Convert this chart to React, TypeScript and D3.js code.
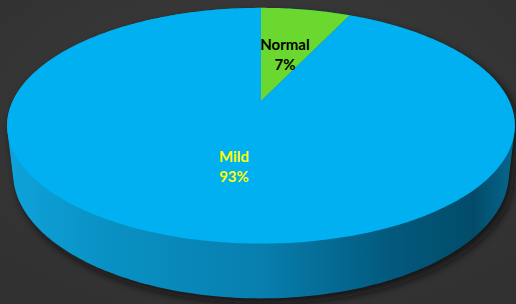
import React from "react";
import * as d3 from "d3";

const categories = ["Normal", "Mild"];
const values = [7, 93];
const labels = ["7%", "93%"];
const colors = ["#6ad82e", "#00b0f0"];
const labelColors = ["#000000", "#ffff00"];

const W = 516;
const H = 304;
const alpha = (27 * Math.PI) / 180;
const dist = 4.25;
const focal = 1055;
const thick = 0.2165;
const cx = 261;
const cy = 101;

function project(theta: number, h: number): [number, number] {
  const x = Math.sin(theta);
  const z = -Math.cos(theta);
  const ca = Math.cos(alpha);
  const sa = Math.sin(alpha);
  const depth = dist - z * ca - h * sa;
  const yc = z * sa - h * ca;
  return [cx + (focal * x) / depth, cy + (focal * yc) / depth];
}

export default function App() {
  const pie = d3.pie<number>().sort(null).value((d) => d);
  const arcs = pie(values);
  const N = 360;
  const rimPts: [number, number][] = [];
  for (let i = 0; i < N; i++) {
    const t = (i / N) * Math.PI * 2;
    rimPts.push(project(t, 0));
    rimPts.push(project(t, -thick));
  }
  const hull = d3.polygonHull(rimPts) || [];
  const line = d3.line();
  const hullPath = line(hull as [number, number][]) + "Z";

  const slicePath = (a0: number, a1: number) => {
    const pts: [number, number][] = [[cx, cy]];
    const steps = Math.max(4, Math.ceil(((a1 - a0) / (Math.PI * 2)) * 360));
    for (let i = 0; i <= steps; i++) {
      pts.push(project(a0 + ((a1 - a0) * i) / steps, 0));
    }
    return line(pts) + "Z";
  };

  const labelPos = [
    [285, 50],
    [234, 162],
  ];

  return (
    <svg width={W} height={H} style={{ position: "absolute", left: 0, top: 0 }}>
      <defs>
        <radialGradient id="bg" cx="50%" cy="40%" r="70%">
          <stop offset="0%" stopColor="#3d3d3d" />
          <stop offset="100%" stopColor="#313131" />
        </radialGradient>
        <linearGradient id="side" x1="0" x2="1" y1="0" y2="0">
          <stop offset="0%" stopColor="#0ea3da" />
          <stop offset="20%" stopColor="#0991c4" />
          <stop offset="50%" stopColor="#077fae" />
          <stop offset="75%" stopColor="#035a7e" />
          <stop offset="92%" stopColor="#024c6a" />
          <stop offset="100%" stopColor="#06688e" />
        </linearGradient>
        <filter id="blur" x="-20%" y="-20%" width="140%" height="140%">
          <feGaussianBlur stdDeviation="4" />
        </filter>
      </defs>
      <rect width={W} height={H} fill="url(#bg)" />
      <path d={hullPath} fill="#111" opacity={0.8} transform="translate(4,5)" filter="url(#blur)" />
      <path d={hullPath} fill="url(#side)" />
      {arcs.map((a, i) => (
        <path key={categories[i]} d={slicePath(a.startAngle, a.endAngle)} fill={colors[i]} />
      ))}
      {arcs.map((a, i) => (
        <text
          key={"t" + i}
          x={labelPos[i][0]}
          y={labelPos[i][1]}
          textAnchor="middle"
          fontFamily="Lato, 'Open Sans', sans-serif"
          fontWeight="bold"
          fontSize={15}
          fill={labelColors[i]}
        >
          <tspan x={labelPos[i][0]} dy={0}>{categories[i]}</tspan>
          <tspan x={labelPos[i][0]} dy={20}>{labels[i]}</tspan>
        </text>
      ))}
    </svg>
  );
}
